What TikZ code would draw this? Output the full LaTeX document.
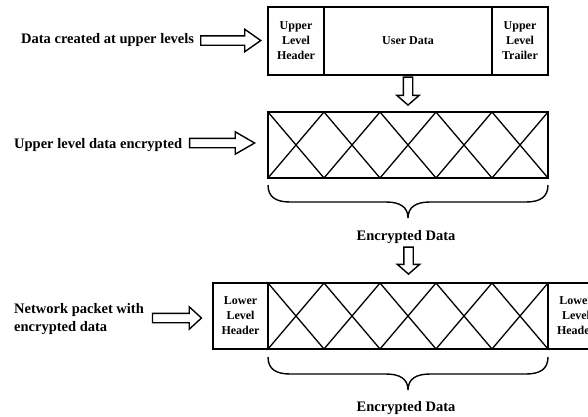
\documentclass[tikz,border=0pt]{standalone}
\usepackage{fontspec}
\setmainfont{Liberation Serif}
\usetikzlibrary{shapes.arrows}

\tikzset{
  sidelabel/.style={font=\bfseries\fontsize{14.5}{18}\selectfont, anchor=base west, align=left, inner sep=0pt},
  cell/.style={draw, line width=1.5pt, minimum height=68pt, inner sep=0pt, align=center, font=\bfseries\fontsize{12}{15}\selectfont},
  cross/.style={line width=1.3pt},
  blockarrow/.style={single arrow, draw, line width=1.4pt, inner xsep=0pt, inner ysep=4pt, single arrow head extend=6.5pt, anchor=tip},
  brace/.style={line width=1.4pt},
  bracelabel/.style={font=\bfseries\fontsize{14.5}{18}\selectfont, anchor=base, inner sep=0pt}
}

\begin{document}
\begin{tikzpicture}[x=1pt, y=-1pt]
  \useasboundingbox (0,0) rectangle (588,416);
  \clip (0,0) rectangle (588,416);

  % data from the upper levels
  \node[sidelabel] (lbl1) at (21,43) {Data created at upper levels};
  \node[cell, minimum width=56pt] (uhdr) at (296,41) {Upper\\Level\\Header};
  \node[cell, minimum width=168pt] (udata) at (408,41) {User Data};
  \node[cell, minimum width=56pt] (utrl) at (520,41) {Upper\\Level\\Trailer};
  \node[blockarrow, minimum height=60pt, single arrow tip angle=70] (a1) at (262,40.5) {};

  \node[blockarrow, minimum height=28pt, single arrow tip angle=98, rotate=-90] (d1) at (408,106) {};

  % encrypted block
  \node[sidelabel] (lbl2) at (14,148) {Upper level data encrypted};
  \node[cell, minimum width=280pt, minimum height=66pt] (enc) at (408,145) {};
  \foreach \i in {0,...,4}
    \draw[cross] (268+56*\i,112) -- (324+56*\i,178) (268+56*\i,178) -- (324+56*\i,112);
  \node[blockarrow, minimum height=65pt, single arrow tip angle=60] (a2) at (256,143) {};

  \draw[brace] (268,185) .. controls (268,197) and (276,202) .. (290,202) -- (386,202)
    .. controls (400,202) and (408,207) .. (408,218) .. controls (408,207) and (416,202) .. (430,202)
    -- (526,202) .. controls (540,202) and (548,197) .. (548,185);
  \node[bracelabel] (enc1) at (406,240) {Encrypted Data};

  \node[blockarrow, minimum height=27pt, single arrow tip angle=98, rotate=-90] (d2) at (408.5,275) {};

  % network packet
  \node[sidelabel] (lbl3) at (14,331) {Network packet with\\encrypted data};
  \node[cell, minimum width=55pt, minimum height=66pt] (lhdr) at (240.5,316) {Lower\\Level\\Header};
  \node[cell, minimum width=280pt, minimum height=66pt] (pkt) at (408,316) {};
  \foreach \i in {0,...,4}
    \draw[cross] (268+56*\i,283) -- (324+56*\i,349) (268+56*\i,349) -- (324+56*\i,283);
  \node[cell, minimum width=56pt, minimum height=66pt] (ltrl) at (576,316) {Lower\\Level\\Header};
  \node[blockarrow, minimum height=49pt, single arrow tip angle=85] (a3) at (202.5,318) {};

  \draw[brace] (268,357) .. controls (268,369) and (276,374) .. (290,374) -- (386,374)
    .. controls (400,374) and (408,379) .. (408,390) .. controls (408,379) and (416,374) .. (430,374)
    -- (526,374) .. controls (540,374) and (548,369) .. (548,357);
  \node[bracelabel] (enc2) at (406,411) {Encrypted Data};
\end{tikzpicture}
\end{document}
